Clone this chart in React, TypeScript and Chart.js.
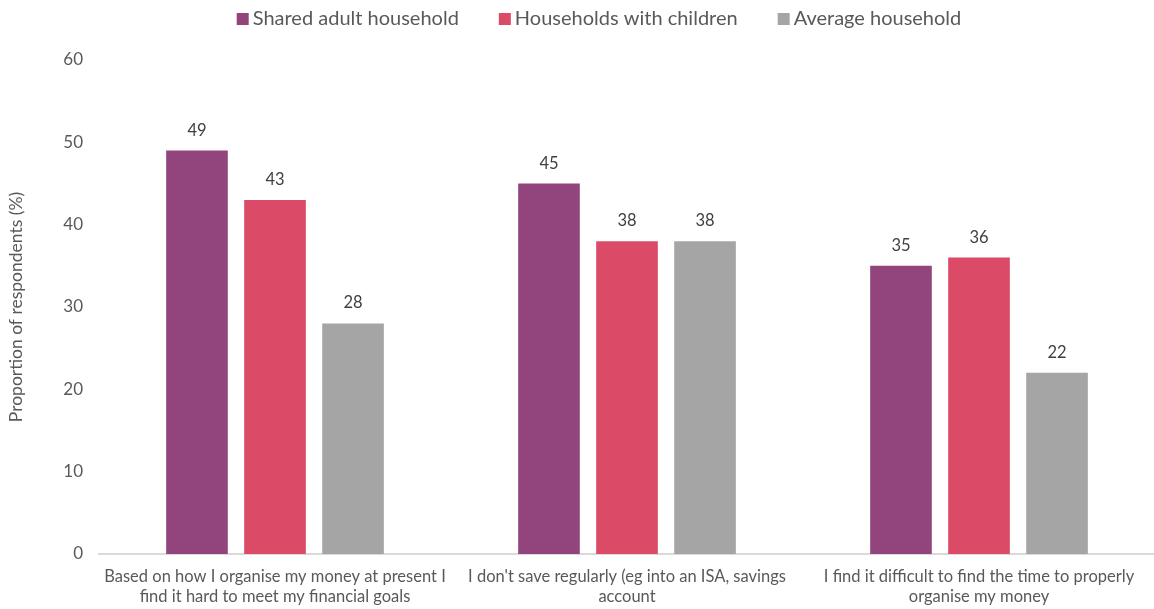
import React, { useEffect, useRef } from "react";
import { Chart, registerables } from "chart.js";

Chart.register(...registerables);

// ---- Data ----
const categories: string[][] = [
  ["Based on how I organise my money at present I", "find it hard to meet my financial goals"],
  ["I don't save regularly (eg into an ISA, savings", "account"],
  ["I find it difficult to find the time to properly", "organise my money"],
];
const seriesNames = ["Shared adult household", "Households with children", "Average household"];
const sharedAdult = [49, 45, 35];
const withChildren = [43, 38, 36];
const averageHousehold = [28, 38, 22];
const seriesColors = ["#92457C", "#DB4A66", "#A5A5A5"];
const yMin = 0;
const yMax = 60;
const yStep = 10;
const yTitle = "Proportion of respondents (%)";

// ---- Styles ----
const FONT = "Lato";
const TEXT = "#595959";

const legendPlugin = {
  id: "topLegend",
  afterDraw(chart: any) {
    const ctx = chart.ctx;
    ctx.save();
    ctx.font = `20px ${FONT}`;
    const box = 12;
    const gap = 4;
    const itemGap = 40;
    const items = chart.data.datasets.map((ds: any) => ({
      label: ds.label,
      color: ds.backgroundColor,
      w: ctx.measureText(ds.label).width,
    }));
    const total =
      items.reduce((s: number, it: any) => s + box + gap + it.w, 0) + itemGap * (items.length - 1);
    let x = 599 - total / 2;
    const cy = 19;
    ctx.textBaseline = "middle";
    ctx.textAlign = "left";
    for (const it of items) {
      ctx.fillStyle = it.color;
      ctx.fillRect(x, cy - box / 2, box, box);
      ctx.fillStyle = TEXT;
      ctx.fillText(it.label, x + box + gap, cy);
      x += box + gap + it.w + itemGap;
    }
    ctx.restore();
  },
};

const valueLabelPlugin = {
  id: "valueLabels",
  afterDatasetsDraw(chart: any) {
    const ctx = chart.ctx;
    ctx.save();
    ctx.font = `16.5px ${FONT}`;
    ctx.fillStyle = "#404040";
    ctx.textAlign = "center";
    ctx.textBaseline = "alphabetic";
    chart.data.datasets.forEach((ds: any, i: number) => {
      const meta = chart.getDatasetMeta(i);
      meta.data.forEach((el: any, j: number) => {
        ctx.fillText(String(ds.data[j]), el.x, el.y - 15);
      });
    });
    ctx.restore();
  },
};

export default function App() {
  const ref = useRef<HTMLCanvasElement | null>(null);

  useEffect(() => {
    if (!ref.current) return;
    const seriesData = [sharedAdult, withChildren, averageHousehold];
    const chart = new Chart(ref.current, {
      type: "bar",
      data: {
        labels: categories,
        datasets: seriesNames.map((name, i) => ({
          label: name,
          data: seriesData[i],
          backgroundColor: seriesColors[i],
          borderWidth: 0,
          categoryPercentage: 0.665,
          barPercentage: 0.79,
        })),
      },
      options: {
        responsive: false,
        animation: false,
        layout: { padding: { top: 60, left: 0, right: 0, bottom: 0 } },
        plugins: {
          legend: { display: false },
          tooltip: { enabled: false },
        },
        scales: {
          x: {
            grid: { display: false, drawTicks: false },
            border: { display: true, color: "#D9D9D9", width: 2 },
            ticks: {
              color: TEXT,
              font: { family: FONT, size: 16.5, lineHeight: 1.2 },
              padding: 13,
              maxRotation: 0,
              autoSkip: false,
            },
            afterFit(s: any) {
              s.height = 55;
            },
          },
          y: {
            min: yMin,
            max: yMax,
            grid: { display: false, drawTicks: false },
            border: { display: false },
            ticks: {
              stepSize: yStep,
              color: TEXT,
              font: { family: FONT, size: 17 },
              padding: 16,
            },
            title: {
              display: true,
              text: yTitle,
              color: TEXT,
              font: { family: FONT, size: 17.5 },
              padding: { top: 6, bottom: 0 },
            },
            afterFit(s: any) {
              s.width = 99;
            },
          },
        },
      },
      plugins: [legendPlugin, valueLabelPlugin],
    });
    return () => chart.destroy();
  }, []);

  return (
    <div
      style={{
        position: "fixed",
        left: 0,
        top: 0,
        width: 1154,
        height: 609,
        overflow: "hidden",
        background: "#fff",
      }}
    >
      <canvas ref={ref} width={1155} height={609} style={{ display: "block" }} />
    </div>
  );
}
